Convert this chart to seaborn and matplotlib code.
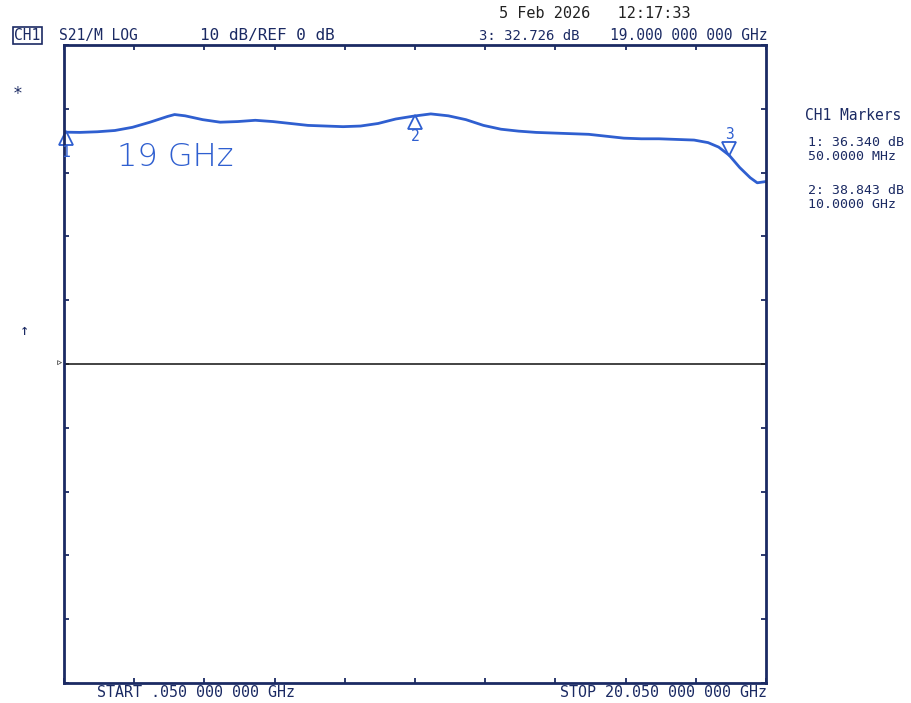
import numpy as np
import pandas as pd
import matplotlib.pyplot as plt
import matplotlib.transforms as mtransforms
import seaborn as sns

# trace (GHz, dB)
freq_ghz = [0.05, 0.5, 1.0, 1.5, 2.0, 2.5, 3.0, 3.2, 3.5, 4.0, 4.5, 5.0, 5.5, 6.0,
            6.5, 7.0, 7.5, 8.0, 8.5, 9.0, 9.5, 10.0, 10.5, 11.0, 11.5, 12.0, 12.5,
            13.0, 13.5, 14.0, 14.5, 15.0, 15.5, 16.0, 16.5, 17.0, 17.5, 18.0, 18.4,
            18.7, 19.0, 19.3, 19.6, 19.8, 20.05]
s21_db = [36.34, 36.3, 36.4, 36.6, 37.1, 37.9, 38.8, 39.1, 38.9, 38.3, 37.9, 38.0,
          38.2, 38.0, 37.7, 37.4, 37.3, 37.2, 37.3, 37.7, 38.4, 38.843, 39.2, 38.9,
          38.3, 37.4, 36.8, 36.5, 36.3, 36.2, 36.1, 36.0, 35.7, 35.4, 35.3, 35.3,
          35.2, 35.1, 34.7, 34.0, 32.726, 30.8, 29.2, 28.4, 28.6]

marker_ids = ["1", "2", "3"]
marker_freq = [0.05, 10.0, 19.0]
marker_db = [36.34, 38.843, 32.726]

start_ghz, stop_ghz = 0.05, 20.05
ref_db, db_per_div = 0, 10

NAVY = "#1b2a63"
TRACE = "#2f5fd0"

sns.set_style("white")
plt.rcParams['font.family'] = ['DejaVu Sans Mono', 'DejaVu Sans']

fig = plt.figure(figsize=(9.11, 7.03), dpi=100)
ax = fig.add_axes([64 / 911, 1 - 683 / 703, 702 / 911, 638 / 703])

df = pd.DataFrame({"freq": freq_ghz, "db": s21_db})
sns.lineplot(data=df, x="freq", y="db", ax=ax, color=TRACE, lw=2)

ax.axhline(ref_db, color="#222222", lw=1.2)

ax.set_xlim(start_ghz, stop_ghz)
ax.set_ylim(ref_db - 5 * db_per_div, ref_db + 5 * db_per_div)
ax.set_xticks(np.linspace(start_ghz, stop_ghz, 11))
ax.set_yticks(np.arange(-50, 51, db_per_div))
ax.tick_params(direction="in", length=3.5, width=1.3, color=NAVY,
               top=True, right=True, bottom=True, left=True,
               labelbottom=False, labelleft=False)
ax.set_xlabel("")
ax.set_ylabel("")
for sp in ax.spines.values():
    sp.set_color(NAVY)
    sp.set_linewidth(2)

# marker symbols
for mid, f, d in zip(marker_ids, marker_freq, marker_db):
    if mid == "3":
        tr = mtransforms.offset_copy(ax.transData, fig=fig, x=0, y=6, units="dots")
        ax.plot([f], [d], marker="v", ms=10, mfc="none", mec=TRACE, mew=1.3,
                transform=tr, clip_on=False)
        ax.text(f, d, mid, color=TRACE, fontsize=10.5, ha="center", va="bottom",
                transform=mtransforms.offset_copy(ax.transData, fig=fig, x=0, y=13, units="dots"))
    else:
        tr = mtransforms.offset_copy(ax.transData, fig=fig, x=2, y=-6, units="dots")
        ax.plot([f], [d], marker="^", ms=10, mfc="none", mec=TRACE, mew=1.3,
                transform=tr, clip_on=False)
        ax.text(f, d, mid, color=TRACE, fontsize=10.5, ha="center", va="top",
                transform=mtransforms.offset_copy(ax.transData, fig=fig, x=2, y=-13, units="dots"))

ax.text(117 / 911, 1 - 166 / 703, "19 GHz", transform=fig.transFigure, color=TRACE,
        fontsize=23, family=["DejaVu Sans"], fontweight="light", ha="left", va="baseline")

# header
fig.text(14 / 911, 1 - 40 / 703, "CH1", color=NAVY, fontsize=10.5, va="baseline",
         bbox=dict(boxstyle="square,pad=0.1", fc="none", ec=NAVY, lw=1.2))
fig.text(59 / 911, 1 - 40 / 703, "S21/M LOG", color=NAVY, fontsize=10.5, va="baseline")
fig.text(200 / 911, 1 - 40 / 703, "10 dB/REF 0 dB", color=NAVY, fontsize=11.5, va="baseline")
fig.text(499 / 911, 1 - 18 / 703, "5 Feb 2026   12:17:33", color="#222222", fontsize=11,
         va="baseline")
fig.text(479 / 911, 1 - 40 / 703, "3: 32.726 dB", color=NAVY, fontsize=10, va="baseline")
fig.text(767 / 911, 1 - 40 / 703, "19.000 000 000 GHz", color=NAVY, fontsize=10.5,
         va="baseline", ha="right")

# marker table
fig.text(805 / 911, 1 - 120 / 703, "CH1 Markers", color=NAVY, fontsize=10.5, va="baseline")
fig.text(808 / 911, 1 - 146 / 703, "1: 36.340 dB", color=NAVY, fontsize=9.5, va="baseline")
fig.text(808 / 911, 1 - 160 / 703, "50.0000 MHz", color=NAVY, fontsize=9.5, va="baseline")
fig.text(808 / 911, 1 - 194 / 703, "2: 38.843 dB", color=NAVY, fontsize=9.5, va="baseline")
fig.text(808 / 911, 1 - 208 / 703, "10.0000 GHz", color=NAVY, fontsize=9.5, va="baseline")

fig.text(13 / 911, 1 - 99 / 703, "*", color=NAVY, fontsize=12, va="baseline")
fig.text(24 / 911, 1 - 330 / 703, "↑", color=NAVY, fontsize=11, va="center", ha="center")
fig.text(63 / 911, 1 - 363 / 703, "▹", color="#333333", fontsize=9, va="center", ha="right")

# footer
fig.text(97 / 911, 1 - 697 / 703, "START .050 000 000 GHz", color=NAVY, fontsize=10.8,
         va="baseline")
fig.text(767 / 911, 1 - 697 / 703, "STOP 20.050 000 000 GHz", color=NAVY, fontsize=10.8,
         va="baseline", ha="right")

fig.savefig("out.png", dpi=100, facecolor="white")
